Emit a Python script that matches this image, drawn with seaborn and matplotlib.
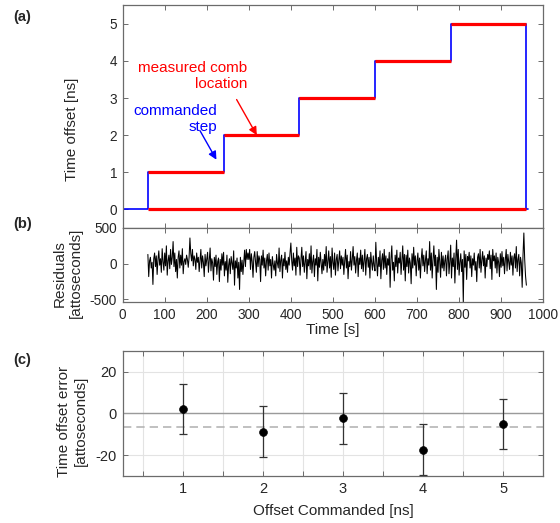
import numpy as np
import matplotlib
matplotlib.use("Agg")
import matplotlib.pyplot as plt
import seaborn as sns
import pandas as pd

sns.set_theme(style="white")
plt.rcParams['font.family'] = ['Liberation Sans', 'DejaVu Sans']
plt.rcParams['axes.unicode_minus'] = False

# (a) commanded step and measured comb location
cmd_t = [0, 60, 240, 420, 600, 780, 960, 965]
cmd_level = [0, 1, 2, 3, 4, 5, 0, 0]
meas_start = [60, 240, 420, 600, 780, 60]
meas_end = [240, 420, 600, 780, 960, 960]
meas_level = [1, 2, 3, 4, 5, 0]

# (b) residuals [as], one value every 2 s from 60 s to 960 s
res_t0, res_dt = 60, 2
residuals = [
    130, -180, 40, 90, -60, 20, -290, 70, 150, -40, 110, -150, 60, 180, -20,
    70, -120, 210, 30, -90, 150, -30, 250, -160, 40, 120, -70, 200, -10, 90,
    310, -40, 150, -110, 60, -200, 90, 180, -60, 120, -20, 210, -140, 30, 70,
    -10, 120, 60, -50, 90, 360, 140, 40, 200, -30, 110, 60, -80, 150, 20,
    90, -110, 40, 200, -60, 110, 20, -180, 130, -30, 60, 160, -120, 40, 220,
    -100, 70, 10, -230, 90, -40, 120, -150, 30, 80, -250, 60, -90, 140, -20,
    160, -170, 30, -90, 120, -260, -20, 70, -140, 100, 10, -80, 180, -300, 40,
    -60, 80, -200, 20, -360, 90, -110, 50, -150, 30, 190, -40, 200, 60, 150,
    60, 200, -80, 140, 30, -190, 90, 170, 20, -120, 170, -40, 110, 60, -250,
    110, -20, 190, -60, 80, -170, 40, 130, -90, 150, -30, 60, -200, 100, -10,
    -90, 40, -170, 130, 10, -60, 220, -110, 50, 120, -200, 70, -30, 160, -80,
    40, -120, 90, -20, 150, 290, 40, -90, 150, -30, 80, -160, 230, -40, 110,
    80, -160, 60, 230, -40, 110, -120, 20, 170, -210, 60, -30, 140, -80, 250,
    -130, 30, 120, -180, 70, -20, 200, -240, 90, -50, 160, 10, -140, 60, -90,
    130, -30, 240, -120, 40, 180, -60, 100, -190, 220, 20, -80, 150, -160, 60,
    130, -100, 50, 180, -70, 110, -20, 90, -150, 40, 200, -60, 120, -210, 30,
    -40, 170, -90, 60, 240, -20, 100, -130, 50, 150, -180, 80, -10, 190, -70,
    120, -110, 40, 200, -160, 70, 130, -50, 90, -200, 160, 20, -90, 110, -30,
    -100, 300, 20, -170, 90, -40, 180, -210, 50, 140, -80, 200, -60, 110, -150,
    70, -20, 160, -330, 60, 250, -90, 20, -240, 120, -40, 190, -130, 80, 10,
    160, -150, 60, 250, -90, 130, -240, 120, -40, 190, -130, 80, 10, -280, 140,
    -60, 230, -20, 110, -170, 40, 150, -90, 80, -200, 60, 210, -30, 120, -110,
    50, 180, -140, 70, -20, 310, -90, 150, -200, 60, 250, -30, 120, -360, 90,
    -120, 200, 30, -190, 160, -60, 110, -100, 40, 120, -170, 70, 180, -140, 30,
    260, -200, 80, -40, 150, -270, 60, 330, -80, 200, -160, 20, 140, -110, 60,
    -540, 180, -50, 130, -220, 100, 40, 160, -60, 110, -180, 70, -20, 150, -90,
    30, -250, 90, 140, -60, 200, -120, 50, 170, -30, 110, -200, 80, -40, 130,
    60, 180, -70, 120, -220, 200, 40, 110, -60, 150, -130, 90, 20, -180, 140,
    -50, 170, -30, 90, -140, 60, 200, -100, 130, 30, -80, 160, -20, 110, -160,
    80, 140, -60, 240, -110, 60, 130, -170, 90, 10, -330, 120, 430, 60, -170,
    -300,
]
res_time = res_t0 + res_dt * np.arange(len(residuals))

# (c) time offset error per commanded offset
offsets = [1, 2, 3, 4, 5]
offset_err = [2.2, -8.7, -2.4, -17.3, -5.1]
offset_unc = [12.1, 12.1, 12.1, 12.2, 12.1]

edge = '#6b6b6b'
tick_col = '#262626'

fig = plt.figure(figsize=(5.6, 5.23), dpi=100)
ax_a = fig.add_axes([0.219, 0.564, 0.751, 0.426])
ax_b = fig.add_axes([0.219, 0.4226, 0.751, 0.1415])
ax_c = fig.add_axes([0.219, 0.0899, 0.751, 0.239])

for ax in (ax_a, ax_b, ax_c):
    for s in ax.spines.values():
        s.set_color(edge)
        s.set_linewidth(0.9)
    ax.tick_params(direction='in', top=True, right=True, length=3.5,
                   width=0.7, color=edge, labelsize=9.8, labelcolor=tick_col,
                   bottom=True, left=True, pad=4)
ax_c.tick_params(labelsize=10.5)

# panel (a)
ax_a.step(cmd_t, cmd_level, where='post', color='#0000ff', lw=1.2, zorder=2)
for x0, x1, lv in zip(meas_start, meas_end, meas_level):
    ax_a.plot([x0, x1], [lv, lv], color='#ff0000', lw=2.3, zorder=3,
              solid_capstyle='butt')
ax_a.set_xlim(0, 1000)
ax_a.set_ylim(-0.5, 5.5)
ax_a.set_xticks(np.arange(0, 1001, 100))
ax_a.set_xticklabels([])
ax_a.set_yticks([0, 1, 2, 3, 4, 5])
ax_a.set_ylabel('Time offset [ns]', fontsize=11, color=tick_col, va='center')
ax_a.yaxis.set_label_coords(-0.121, 0.444)

ax_a.text(296, 3.59, 'measured comb\nlocation', color='#ff0000', fontsize=11,
          ha='right', va='center', multialignment='right', linespacing=1.2)
ax_a.annotate('', xy=(319, 2.0), xytext=(271, 2.96),
              arrowprops=dict(arrowstyle='-|>', color='#ff0000', lw=1.0,
                              mutation_scale=12, shrinkA=0, shrinkB=0))
ax_a.text(224, 2.44, 'commanded\nstep', color='#0000ff', fontsize=11,
          ha='right', va='center', multialignment='right', linespacing=1.2)
ax_a.annotate('', xy=(223, 1.34), xytext=(184, 2.12),
              arrowprops=dict(arrowstyle='-|>', color='#0000ff', lw=1.0,
                              mutation_scale=12, shrinkA=0, shrinkB=0))

# panel (b)
df_res = pd.DataFrame({'time': res_time, 'res': residuals})
sns.lineplot(data=df_res, x='time', y='res', ax=ax_b, color='black', lw=0.75)
ax_b.set_xlim(0, 1000)
ax_b.set_ylim(-535, 500)
ax_b.set_xticks(np.arange(0, 1001, 100))
ax_b.set_yticks([-500, 0, 500])
ax_b.set_xlabel('Time [s]', fontsize=11, color=tick_col, labelpad=1)
ax_b.set_ylabel('Residuals\n[attoseconds]', fontsize=11, color=tick_col,
                linespacing=1.2, va='center')
ax_b.yaxis.set_label_coords(-0.130, 0.39)

# panel (c)
xt = np.arange(0.5, 5.51, 0.5)
ax_c.set_xlim(0.25, 5.5)
ax_c.set_ylim(-30, 30)
ax_c.set_xticks(xt)
ax_c.set_xticklabels([str(int(v)) if v == int(v) else '' for v in xt])
ax_c.set_yticks([-20, 0, 20])
ax_c.grid(True, color='#e3e3e3', lw=0.8)
ax_c.set_axisbelow(True)
ax_c.axhline(0, color='#9a9a9a', lw=1.0, zorder=1)
ax_c.axhline(np.mean(offset_err), color='#b5b5b5', lw=1.2, ls=(0, (5, 3)), zorder=1)
ax_c.errorbar(offsets, offset_err, yerr=offset_unc, fmt='none', ecolor='#333333',
              elinewidth=0.9, capsize=2.7, capthick=0.9, zorder=3)
sns.scatterplot(x=offsets, y=offset_err, ax=ax_c, color='black', s=32,
                edgecolor='black', zorder=4)
ax_c.set_xlabel('Offset Commanded [ns]', fontsize=11, color=tick_col, labelpad=6)
ax_c.set_ylabel('Time offset error\n[attoseconds]', fontsize=11, color=tick_col,
                linespacing=1.2, va='center')
ax_c.yaxis.set_label_coords(-0.119, 0.44)

fig.text(0.023, 0.967, '(a)', fontsize=10.5, fontweight='bold', va='center')
fig.text(0.023, 0.572, '(b)', fontsize=10.5, fontweight='bold', va='center')
fig.text(0.023, 0.312, '(c)', fontsize=10.5, fontweight='bold', va='center')

fig.savefig('out.png', dpi=100)
